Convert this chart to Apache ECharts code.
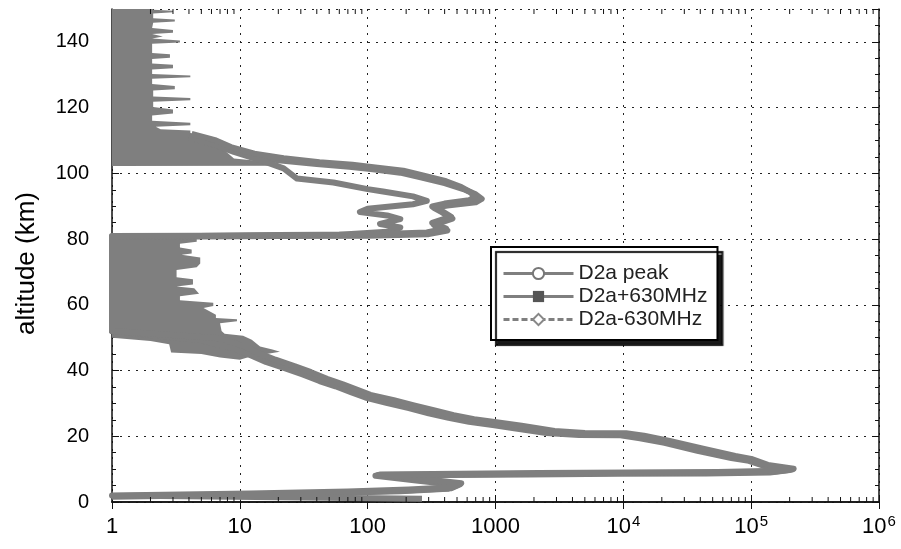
<!DOCTYPE html>
<html>
<head>
<meta charset="utf-8">
<script src="https://cdn.jsdelivr.net/npm/echarts@6/dist/echarts.min.js"></script>
<style>
  html, body { margin: 0; padding: 0; background: #fff; }
  #chart { width: 901px; height: 549px; }
</style>
</head>
<body>
<div id="chart"></div>
<script>
// Altitude profiles: each point is [value, altitude km]

const seriesNames = ['D2a peak', 'D2a+630MHz', 'D2a-630MHz'];

const d2aPeak = [
  [4.0, 111.5], [6.2, 109.5], [8, 107.5], [12, 105.5], [20, 104], [40, 102.8], [72, 102], [110, 101.2],
  [180, 100.2], [260, 98.8], [400, 97], [560, 95.2], [700, 93.6], [780, 92.2], [700, 91.2], [420, 90.2],
  [330, 89.5], [380, 88.2], [460, 86.2], [330, 84.3], [420, 82.6], [300, 81.5], [100, 81.0], [20, 80.9],
  [5, 80.8], [1, 80.6],
  [1, 52], [6, 49.5], [10, 47], [13, 45], [17, 43], [25, 41], [33, 39.2], [45, 37.2], [60, 35.5],
  [78, 33.8], [100, 32.2], [150, 30.6], [220, 29], [320, 27.4], [450, 26], [650, 24.8], [1000, 23.8],
  [1500, 22.8], [2700, 21.2], [4800, 20.6], [10000, 20.6], [14000, 19.8], [22000, 18.3], [40000, 15.9],
  [72000, 13.7], [98000, 12.8], [132000, 11], [210000, 9.9], [150000, 9.2], [50000, 8.9], [10000, 8.8],
  [2000, 8.6], [500, 8.4], [120, 8.2], [250, 6.8], [530, 5.4], [450, 4.2], [200, 3.5], [60, 2.9],
  [10, 2.3], [1, 1.8]
];

const d2aPlus630 = [
  [4, 111], [6, 109], [9, 106.5], [14, 104.2], [22, 101.5], [28, 98.4], [54, 97.2], [100, 95.2],
  [132, 94.5], [226, 93], [290, 91.6], [226, 90.6], [180, 90.2], [100, 89.2], [87, 88.2], [142, 87.2],
  [180, 86.1], [125, 84.6], [180, 83.5], [142, 82.2], [60, 81.3], [10, 81], [1, 80.8],
  [1, 52], [5, 49.2], [9, 46.7], [12, 44.7], [16, 42.6], [23, 40.6], [31, 38.8], [42, 36.8], [56, 35.2],
  [74, 33.4], [96, 31.8], [140, 30.2], [210, 28.6], [300, 27.0], [430, 25.6], [620, 24.4], [950, 23.4],
  [1400, 22.4], [2500, 21.0], [4500, 20.4], [9500, 20.3], [13500, 19.4], [21000, 18.0], [38000, 15.6],
  [70000, 13.4], [96000, 12.5], [130000, 10.8], [200000, 9.7], [140000, 9.0], [45000, 8.7], [9000, 8.6],
  [1800, 8.4], [450, 8.2], [115, 8.0], [240, 6.5], [500, 5.2], [420, 4.0], [180, 3.3], [50, 2.7],
  [8, 2.1], [1, 1.6]
];

const d2aMinus630 = [
  [4.2, 112], [6.5, 110], [8.5, 108], [13, 106], [22, 104.6], [42, 103.4], [76, 102.6], [115, 101.8],
  [190, 100.8], [270, 99.4], [410, 97.6], [540, 95.8], [640, 94.2], [690, 92.8], [620, 91.8], [400, 90.8],
  [320, 89.9], [370, 88.8], [450, 86.8], [320, 84.9], [410, 83.2], [290, 82.0], [100, 81.4], [20, 81.2],
  [5, 81.0], [1, 80.9],
  [1, 52], [7, 49.8], [11, 47.3], [14, 45.3], [19, 43.3], [27, 41.3], [36, 39.5], [48, 37.5], [64, 35.8],
  [82, 34.2], [105, 32.6], [160, 31.0], [230, 29.4], [340, 27.8], [470, 26.4], [680, 25.2], [1050, 24.2],
  [1600, 23.2], [2900, 21.6], [5000, 21.0], [10500, 20.9], [14500, 20.2], [23000, 18.6], [42000, 16.2],
  [75000, 14.0], [100000, 13.1], [135000, 11.3], [215000, 10.1], [160000, 9.5], [55000, 9.1], [11000, 9.0],
  [2200, 8.8], [520, 8.6], [125, 8.4], [260, 7.1], [540, 5.7], [460, 4.5], [210, 3.8], [70, 3.2],
  [12, 2.6], [1, 2.0], [1, 1.5], [266, 1.0]
];

// Noise floor above 100 km: outline of the filled region (left side at value 1)
const noiseUpper = [
  [1, 150], [2.1, 150], [2.1, 149.8], [3.0, 149.5], [3.0, 149.0], [2.1, 148.6], [2.1, 147.2], [3.1, 146.8],
  [3.1, 146.2], [2.1, 145.8], [2.06, 144.2], [3.0, 143.6], [3.0, 142.8], [2.06, 142.4], [2.5, 141.6],
  [2.06, 141.0], [3.4, 140.4], [3.4, 139.8], [2.06, 139.4], [2.06, 136.6], [2.84, 136.2], [2.84, 135.2],
  [2.06, 134.8], [2.06, 133.4], [3.0, 133.0], [3.0, 132.0], [2.06, 131.6], [2.06, 130.2], [4.1, 129.8],
  [4.1, 129.2], [2.06, 128.8], [2.06, 127.2], [3.1, 126.6], [3.1, 125.6], [2.1, 125.2], [2.1, 123.4],
  [4.1, 122.9], [4.1, 122.2], [2.1, 121.8], [2.1, 120.2], [3.0, 119.4], [3.0, 118.2], [2.06, 117.6],
  [2.06, 116.0], [4.1, 115.4], [4.1, 114.6], [2.2, 114.2], [2.4, 113.4], [4.1, 113.0], [4.1, 112.2],
  [4.6, 111.2], [6.2, 109.5], [7.9, 106.4], [9, 104.5], [20, 103.2], [20, 102.3], [1, 102.2]
];

// Noise floor between 50 and 80 km
const noiseMiddle = [
  [1, 80.9], [4.6, 80.4], [4.6, 79.2], [3.4, 78.6], [3.4, 77.4], [4.2, 76.8], [4.2, 75.6], [3.5, 75.2],
  [4.9, 74.4], [4.9, 72.6], [4.6, 71.4], [3.2, 70.6], [3.2, 68.4], [4.3, 67.8], [4.3, 66.2], [3.2, 65.6],
  [4.4, 65.0], [4.8, 63.4], [3.4, 62.6], [3.4, 61.4], [6.2, 60.6], [6.2, 59.6], [5.2, 59.0], [6.5, 57.0],
  [6.5, 56.0], [9.5, 55.6], [9.5, 55.0], [7, 54.4], [7.2, 52], [7.6, 51.2], [10.6, 50.6], [12.4, 49.4],
  [14.4, 47.3], [18, 46.4], [20.6, 45.7], [12, 44.2], [10, 43.3], [7, 44], [5, 45], [2.9, 45.5],
  [2.8, 48], [2, 49], [1, 50]
];

// Axis ticks and labels
const xTickLabels = ['1', '10', '100', '1000', '10^4', '10^5', '10^6'];
const yMin = 0, yMax = 150, yStep = 20, yMinorStep = 5;
const xMin = 1, xMax = 1e6;
const logDecades = [1, 10, 100, 1000, 1e4, 1e5];
const logSubSteps = [2, 3, 4, 5, 6, 7, 8, 9];

const FONT = '"Liberation Sans", Arial, Helvetica, sans-serif';
const INK = '#111';
const TRACE = '#7f7f7f';
const TRACE_W = 6;

const minorX = [];
logDecades.forEach(d => logSubSteps.forEach(m => minorX.push([d * m, yMin])));

function fillRenderer(outline) {
  return function (params, api) {
    if (params.dataIndex !== 0) return null;
    return {
      type: 'polygon',
      shape: { points: outline.map(p => api.coord(p)) },
      style: { fill: TRACE },
      silent: true
    };
  };
}

function minorTickRenderer(params, api) {
  const v = api.value(0);
  const b = api.coord([v, yMin]);
  const t = api.coord([v, yMax]);
  const st = { stroke: INK, lineWidth: 1 };
  return {
    type: 'group',
    silent: true,
    children: [
      { type: 'line', shape: { x1: b[0], y1: b[1], x2: b[0], y2: b[1] - 5 }, style: st },
      { type: 'line', shape: { x1: t[0], y1: t[1], x2: t[0], y2: t[1] + 5 }, style: st }
    ]
  };
}

const frameLine = { show: true, lineStyle: { color: INK, width: 1.5 } };
const dotted = { show: true, lineStyle: { color: '#222', width: 1, type: [2, 6] } };

const chart = echarts.init(document.getElementById('chart'), null, { renderer: 'canvas' });

const option = {
  backgroundColor: '#fff',
  animation: false,
  grid: { left: 112, right: 22, top: 9, bottom: 47, outerBoundsMode: 'none' },
  legend: {
    data: [
      { name: seriesNames[0] },
      { name: seriesNames[1] },
      { name: seriesNames[2], lineStyle: { type: [6, 3] } }
    ],
    orient: 'vertical',
    left: 491, top: 247,
    itemWidth: 70, itemHeight: 14, itemGap: 2,
    padding: [16, 10, 10, 11],
    backgroundColor: '#fff',
    borderColor: '#000', borderWidth: 2, borderRadius: 0,
    shadowColor: 'rgba(0,0,0,0.9)', shadowBlur: 1, shadowOffsetX: 5, shadowOffsetY: 5,
    lineStyle: { width: 3 },
    textStyle: { fontFamily: FONT, fontSize: 21, color: '#222' },
    selectedMode: false
  },
  xAxis: [
    {
      type: 'log', logBase: 10, min: xMin, max: xMax, position: 'bottom',
      axisLine: frameLine,
      axisTick: { show: true, inside: true, length: 7, lineStyle: { color: INK } },
      splitLine: dotted,
      minorTick: { show: false }, minorSplitLine: { show: false },
      axisLabel: {
        margin: 12, color: '#000', fontFamily: FONT, fontSize: 22,
        formatter: function (v, i) {
          const t = xTickLabels[i] || '';
          if (t.indexOf('^') >= 0) {
            const parts = t.split('^');
            return '{b|' + parts[0] + '}{s|' + parts[1] + '}';
          }
          return '{b|' + t + '}';
        },
        rich: {
          b: { fontFamily: FONT, fontSize: 22, color: '#000', lineHeight: 26 },
          s: { fontFamily: FONT, fontSize: 15, color: '#000', verticalAlign: 'top', lineHeight: 26, padding: [0, 0, 12, 1] }
        }
      }
    },
    {
      type: 'log', logBase: 10, min: xMin, max: xMax, position: 'top',
      axisLine: frameLine,
      axisTick: { show: true, inside: true, length: 7, lineStyle: { color: INK } },
      axisLabel: { show: false }, splitLine: { show: false }
    }
  ],
  yAxis: [
    {
      type: 'value', min: yMin, max: yMax, interval: yStep, position: 'left',
      name: 'altitude (km)', nameLocation: 'middle', nameRotate: 90, nameGap: 72,
      nameTextStyle: { fontFamily: FONT, fontSize: 26, color: '#000', padding: [0, 16, 0, 0] },
      axisLine: frameLine,
      axisTick: { show: true, inside: true, length: 7, lineStyle: { color: INK } },
      splitLine: dotted,
      axisLabel: { margin: 23, color: '#000', fontFamily: FONT, fontSize: 20, showMaxLabel: false }
    },
    {
      type: 'value', min: yMin, max: yMax, interval: yStep, position: 'right',
      axisLine: frameLine,
      axisTick: { show: true, inside: true, length: 7, lineStyle: { color: INK } },
      axisLabel: { show: false }, splitLine: { show: false }
    },
    {
      type: 'value', min: yMin, max: yMax, interval: yMinorStep, position: 'left',
      axisLine: { show: false },
      axisTick: { show: true, inside: true, length: 4, lineStyle: { color: INK } },
      axisLabel: { show: false }, splitLine: { show: false }
    },
    {
      type: 'value', min: yMin, max: yMax, interval: yMinorStep, position: 'right',
      axisLine: { show: false },
      axisTick: { show: true, inside: true, length: 4, lineStyle: { color: INK } },
      axisLabel: { show: false }, splitLine: { show: false }
    }
  ],
  series: [
    {
      type: 'custom', name: 'noise-upper', data: noiseUpper, renderItem: fillRenderer(noiseUpper),
      xAxisIndex: 0, yAxisIndex: 0, encode: { x: 0, y: 1 }, z: 2, silent: true
    },
    {
      type: 'custom', name: 'noise-middle', data: noiseMiddle, renderItem: fillRenderer(noiseMiddle),
      xAxisIndex: 0, yAxisIndex: 0, encode: { x: 0, y: 1 }, z: 2, silent: true
    },
    {
      type: 'custom', name: 'minor-x-ticks', data: minorX, renderItem: minorTickRenderer,
      xAxisIndex: 0, yAxisIndex: 0, encode: { x: 0, y: 1 }, z: 5, silent: true, clip: false
    },
    {
      type: 'line', name: seriesNames[0], data: d2aPeak, xAxisIndex: 0, yAxisIndex: 0,
      showSymbol: false, symbol: 'emptyCircle', clip: true, z: 3,
      lineStyle: { color: TRACE, width: TRACE_W, join: 'round' },
      itemStyle: { color: '#777' }
    },
    {
      type: 'line', name: seriesNames[1], data: d2aPlus630, xAxisIndex: 0, yAxisIndex: 0,
      showSymbol: false, symbol: 'rect', clip: true, z: 3,
      lineStyle: { color: TRACE, width: TRACE_W, join: 'round' },
      itemStyle: { color: '#555' }
    },
    {
      type: 'line', name: seriesNames[2], data: d2aMinus630, xAxisIndex: 0, yAxisIndex: 0,
      showSymbol: false, symbol: 'emptyDiamond', clip: true, z: 3,
      lineStyle: { color: TRACE, width: TRACE_W, join: 'round' },
      itemStyle: { color: '#888' }
    }
  ]
};

chart.setOption(option);
</script>
</body>
</html>
